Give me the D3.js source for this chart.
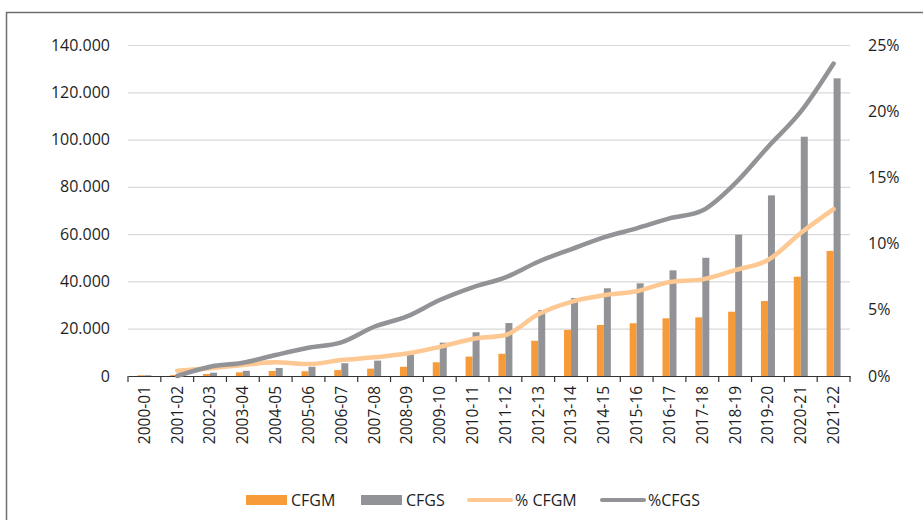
<!DOCTYPE html>
<html>
<head>
<meta charset="utf-8">
<script src="https://d3js.org/d3.v7.min.js"></script>
<style>
  body { margin: 0; background: #fff; }
  text { font-family: "Open Sans", "Noto Sans", sans-serif; fill: #1e1e1e; }
</style>
</head>
<body>
<div id="chart"></div>
<script>
// data
var years = ["2000-01","2001-02","2002-03","2003-04","2004-05","2005-06","2006-07","2007-08",
  "2008-09","2009-10","2010-11","2011-12","2012-13","2013-14","2014-15","2015-16","2016-17",
  "2017-18","2018-19","2019-20","2020-21","2021-22"];
var cfgm = [300, 400, 850, 1550, 2100, 2000, 2500, 3100, 3900, 5800, 8200, 9400, 14900, 19500,
  21600, 22300, 24400, 24800, 27200, 31700, 42000, 52900];
var cfgs = [300, 500, 1400, 2200, 3400, 3900, 5400, 6500, 9000, 14100, 18500, 22400, 27900, 33000,
  37100, 39200, 44700, 50000, 59800, 76400, 101200, 125900];
var pctCfgm = [null, 0.4, 0.58, 0.83, 1.03, 0.9, 1.2, 1.41, 1.7, 2.2, 2.8, 3.1, 4.66, 5.6, 6.1,
  6.4, 7.1, 7.3, 8.0, 8.76, 10.8, 12.6];
var pctCfgs = [null, 0.0, 0.7, 1.0, 1.59, 2.14, 2.54, 3.72, 4.5, 5.74, 6.7, 7.45, 8.63, 9.57,
  10.47, 11.15, 11.9, 12.5, 14.55, 17.3, 19.96, 23.6];
var leftTicks = [0, 20000, 40000, 60000, 80000, 100000, 120000, 140000];
var rightTicks = [0, 5, 10, 15, 20, 25];
var legendItems = [
  {name: "CFGM", type: "bar", color: "#f79a38"},
  {name: "CFGS", type: "bar", color: "#929396"},
  {name: "% CFGM", type: "line", color: "#fdc892"},
  {name: "%CFGS", type: "line", color: "#929396"}
];

var W = 923, H = 520;
var margin = {top: 45, right: 73, bottom: 144, left: 128};
var width = W - margin.left - margin.right,
    height = H - margin.top - margin.bottom;

var svg = d3.select("#chart").append("svg")
  .attr("width", W).attr("height", H);

// outer frame
svg.append("path")
  .attr("d", "M6.5," + H + "V12.5H" + W)
  .attr("fill", "none").attr("stroke", "#6e6e6e").attr("stroke-width", 1.5);

var g = svg.append("g").attr("transform", "translate(" + margin.left + "," + margin.top + ")");

var x = d3.scaleBand().domain(years).range([0, width]);
var y = d3.scaleLinear().domain([0, 140000]).range([height, 0]);
var y2 = d3.scaleLinear().domain([0, 25]).range([height, 0]);

// gridlines
g.append("g").selectAll("line").data(leftTicks.slice(1)).enter().append("line")
  .attr("x1", 0).attr("x2", width)
  .attr("y1", function(d) { return y(d) + 0.5; }).attr("y2", function(d) { return y(d) + 0.5; })
  .attr("stroke", "#d9d9d9").attr("stroke-width", 1.2);

// left axis
var ya = g.append("g")
  .call(d3.axisLeft(y).tickValues(leftTicks).tickSize(0).tickPadding(18)
    .tickFormat(function(d) { return d3.format(",")(d).replace(/,/g, "."); }));
ya.select(".domain").remove();
ya.selectAll("text").style("font-size", "16px");

// right axis
var yb = g.append("g").attr("transform", "translate(" + width + ",0)")
  .call(d3.axisRight(y2).tickValues(rightTicks).tickSize(0).tickPadding(18)
    .tickFormat(function(d) { return d + "%"; }));
yb.select(".domain").remove();
yb.selectAll("text").style("font-size", "16px");

// bars
var bw = 7;
g.append("g").selectAll("rect").data(cfgm).enter().append("rect")
  .attr("x", function(d, i) { return x(years[i]) + x.bandwidth() / 2 - bw; })
  .attr("y", function(d) { return y(d); })
  .attr("width", bw)
  .attr("height", function(d) { return height - y(d); })
  .attr("fill", legendItems[0].color);
g.append("g").selectAll("rect").data(cfgs).enter().append("rect")
  .attr("x", function(d, i) { return x(years[i]) + x.bandwidth() / 2; })
  .attr("y", function(d) { return y(d); })
  .attr("width", bw)
  .attr("height", function(d) { return height - y(d); })
  .attr("fill", legendItems[1].color);

// x axis
var xa = g.append("g").attr("transform", "translate(0," + height + ")")
  .call(d3.axisBottom(x).tickSize(0).tickPadding(10));
xa.select(".domain").attr("stroke", "#333").attr("stroke-width", 1.2);
xa.selectAll("text")
  .style("font-size", "15.5px")
  .attr("text-anchor", "end")
  .attr("transform", "rotate(-90)")
  .attr("x", -10).attr("y", 0).attr("dy", "0.35em");
// ticks at band boundaries
xa.append("g").selectAll("line").data(d3.range(years.length + 1)).enter().append("line")
  .attr("x1", function(i) { return i * x.step(); })
  .attr("x2", function(i) { return i * x.step(); })
  .attr("y1", 0).attr("y2", 6)
  .attr("stroke", "#333").attr("stroke-width", 1.2);

// lines
function lineFor(arr) {
  return d3.line()
    .defined(function(d) { return d != null; })
    .x(function(d, i) { return x(years[i]) + x.bandwidth() / 2; })
    .y(function(d) { return y2(d); })
    .curve(d3.curveMonotoneX)(arr);
}
g.append("path").attr("d", lineFor(pctCfgm))
  .attr("fill", "none").attr("stroke", legendItems[2].color)
  .attr("stroke-width", 4.5).attr("stroke-linecap", "round").attr("stroke-linejoin", "round");
g.append("path").attr("d", lineFor(pctCfgs))
  .attr("fill", "none").attr("stroke", legendItems[3].color)
  .attr("stroke-width", 4.5).attr("stroke-linecap", "round").attr("stroke-linejoin", "round");

// legend
var legX = [246, 361, 467, 600];
var lg = svg.append("g").attr("transform", "translate(0,500)");
legendItems.forEach(function(it, i) {
  var gi = lg.append("g").attr("transform", "translate(" + legX[i] + ",0)");
  var sw;
  if (it.type === "bar") {
    sw = 41;
    gi.append("rect").attr("x", 0).attr("y", -5).attr("width", sw).attr("height", 10)
      .attr("fill", it.color);
  } else {
    sw = 44;
    gi.append("line").attr("x1", 2).attr("x2", sw).attr("y1", 0).attr("y2", 0)
      .attr("stroke", it.color).attr("stroke-width", 4).attr("stroke-linecap", "round");
  }
  gi.append("text").attr("x", sw + 4).attr("y", 0).attr("dy", "0.35em")
    .style("font-size", "16px").text(it.name);
});
</script>
</body>
</html>
